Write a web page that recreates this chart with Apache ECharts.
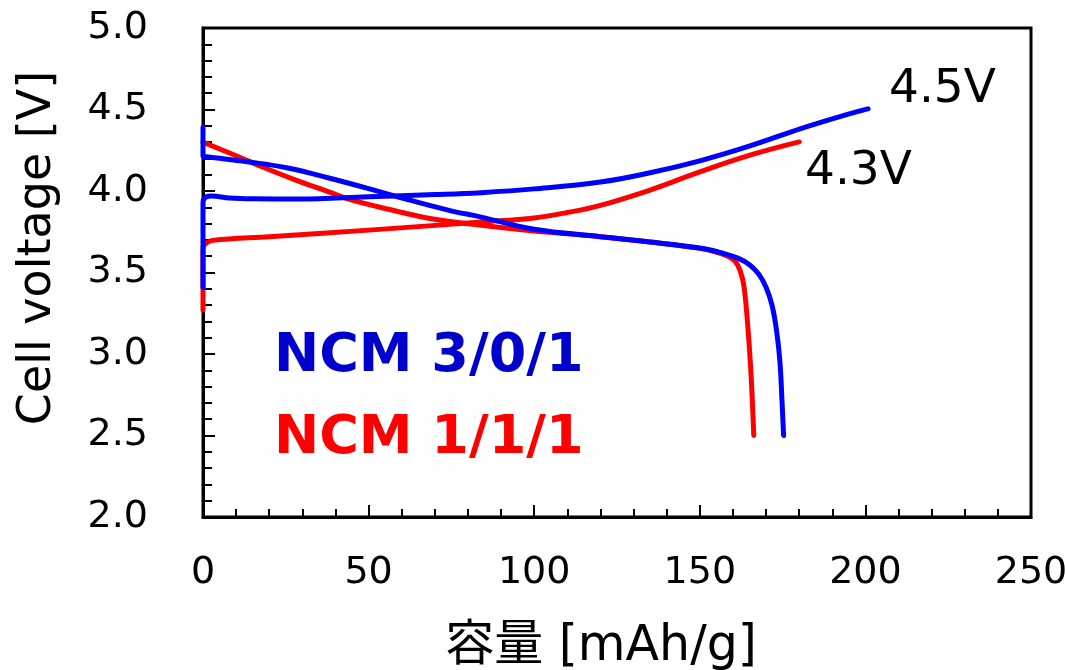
<!DOCTYPE html>
<html>
<head>
<meta charset="utf-8">
<script src="https://cdn.jsdelivr.net/npm/echarts@6/dist/echarts.min.js"></script>
<style>html,body{margin:0;padding:0;background:#fff}#c{width:1065px;height:670px}</style>
</head>
<body>
<div id="c"></div>
<script>
// Capacity [mAh/g] and cell voltage [V]
var redChargeCap = [0, 0, 0.5, 3, 20, 50, 84, 100, 110, 120, 135, 150, 165.4, 180];
var redChargeV   = [3.27, 3.64, 3.672, 3.697, 3.72, 3.76, 3.81, 3.835, 3.868, 3.912, 4.006, 4.117, 4.221, 4.301];

var redDischCap = [0, 8, 18, 28, 38, 44, 56, 69, 84, 100, 120, 135, 150, 155.4, 158.8, 160.8, 162.2, 163.3, 164.3, 165.4, 166.3];
var redDischV   = [4.30, 4.233, 4.147, 4.067, 3.995, 3.95, 3.888, 3.83, 3.79, 3.755, 3.72, 3.687, 3.648, 3.622, 3.596, 3.565, 3.51, 3.42, 3.22, 2.90, 2.5];

var blueChargeCap = [0, 0, 1, 2.5, 8, 15, 29, 50, 70, 84, 100, 120, 135, 150, 165.4, 180.5, 190, 199.5, 200.8];
var blueChargeV   = [3.41, 3.93, 3.965, 3.97, 3.957, 3.952, 3.951, 3.965, 3.978, 3.99, 4.013, 4.055, 4.112, 4.185, 4.278, 4.383, 4.443, 4.498, 4.504];

var blueDischCap = [0, 0, 1, 13.3, 26, 38, 50, 59, 74, 84, 100, 120, 135, 150, 157, 161.5, 165, 167.8, 170, 171.8, 173.2, 174.2, 174.8, 175.3];
var blueDischV   = [4.39, 4.215, 4.21, 4.18, 4.14, 4.08, 4.015, 3.963, 3.883, 3.84, 3.765, 3.72, 3.687, 3.65, 3.618, 3.588, 3.548, 3.49, 3.41, 3.30, 3.14, 2.95, 2.72, 2.5];

var xTicks = [0, 50, 100, 150, 200, 250];
var yTicks = [2.0, 2.5, 3.0, 3.5, 4.0, 4.5, 5.0];

function zip(a, b) { return a.map(function (v, i) { return [v, b[i]]; }); }

var chart = echarts.init(document.getElementById('c'));
var font = 'DejaVu Sans, Verdana, sans-serif';
function lineSeries(name, cap, v, color) {
  return {
    name: name, type: 'line', data: zip(cap, v), showSymbol: false, smooth: 0.4,
    lineStyle: { color: color, width: 5, cap: 'round', join: 'round' }, z: 3
  };
}
chart.setOption({
  animation: false,
  backgroundColor: '#fff',
  grid: { left: 203, top: 28, right: 34, bottom: 153, outerBoundsMode: 'none', containLabel: false,
    show: true, borderColor: '#000', borderWidth: 3 },
  xAxis: {
    type: 'value', min: xTicks[0], max: xTicks[xTicks.length - 1], interval: 50,
    axisLine: { show: true, lineStyle: { color: '#000', width: 3 } },
    axisTick: { show: true, inside: true, length: 12, lineStyle: { color: '#000', width: 2 } },
    minorTick: { show: true, splitNumber: 5, length: 8, lineStyle: { color: '#000', width: 2 } },
    splitLine: { show: false },
    axisLabel: { color: '#000', fontSize: 38, fontFamily: font, margin: 37 }
  },
  yAxis: {
    type: 'value', min: yTicks[0], max: yTicks[yTicks.length - 1], interval: 0.5,
    axisLine: { show: true, lineStyle: { color: '#000', width: 3 } },
    axisTick: { show: true, inside: true, length: 12, lineStyle: { color: '#000', width: 2 } },
    minorTick: { show: true, splitNumber: 5, length: 9, lineStyle: { color: '#000', width: 2 } },
    splitLine: { show: false },
    axisLabel: { color: '#000', fontSize: 38, fontFamily: font, margin: 55,
      formatter: function (v) { return v.toFixed(1); } }
  },
  series: [
    lineSeries('NCM 1/1/1 charge', redChargeCap, redChargeV, '#ff0000'),
    lineSeries('NCM 1/1/1 discharge', redDischCap, redDischV, '#ff0000'),
    lineSeries('NCM 3/0/1 charge', blueChargeCap, blueChargeV, '#0000ff'),
    lineSeries('NCM 3/0/1 discharge', blueDischCap, blueDischV, '#0000ff')
  ],
  graphic: [
    { type: 'text', left: 274, top: 330, style: { text: 'NCM 3/0/1', font: 'bold 54px DejaVu Sans', fill: '#0000cc' } },
    { type: 'text', left: 274, top: 412, style: { text: 'NCM 1/1/1', font: 'bold 54px DejaVu Sans', fill: '#ff0000' } },
    { type: 'text', left: 889, top: 66, style: { text: '4.5V', font: '47px DejaVu Sans', fill: '#000' } },
    { type: 'text', left: 805, top: 148, style: { text: '4.3V', font: '47px DejaVu Sans', fill: '#000' } },
    { type: 'text', x: 38, y: 248, rotation: Math.PI / 2,
      style: { text: 'Cell voltage [V]', font: '46px DejaVu Sans', fill: '#000', align: 'center', verticalAlign: 'middle' } },
    { type: 'text', x: 601, y: 647,
      style: { text: '容量 [mAh/g]', font: '49px "DejaVu Sans", "Noto Sans CJK JP"', fill: '#000', align: 'center', verticalAlign: 'middle' } }
  ]
});
</script>
</body>
</html>
